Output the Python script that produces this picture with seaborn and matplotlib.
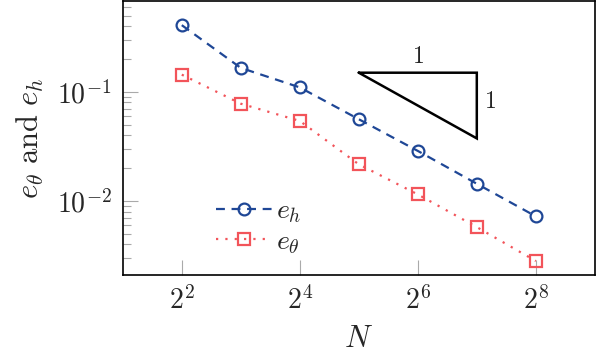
import matplotlib
matplotlib.use("Agg")
import matplotlib.pyplot as plt
import seaborn as sns
import pandas as pd
import numpy as np
from matplotlib.ticker import FixedLocator, LogLocator, NullFormatter, FixedFormatter

N = [4, 8, 16, 32, 64, 128, 256]
e_h = [0.409, 0.166, 0.110, 0.0562, 0.0288, 0.0144, 0.00724]
e_theta = [0.144, 0.078, 0.0542, 0.0217, 0.0115, 0.00577, 0.00282]
tri_x = [32, 128, 128, 32]
tri_y = [0.15, 0.15, 0.0375, 0.15]
xtick_vals = [4, 16, 64, 256]
xtick_labels = [r'$2^{2}$', r'$2^{4}$', r'$2^{6}$', r'$2^{8}$']
ytick_vals = [0.1, 0.01]
ytick_labels = [r'$10^{-1}$', r'$10^{-2}$']

sns.set_theme(style="white")
plt.rcParams['mathtext.fontset'] = 'cm'
plt.rcParams['font.family'] = ['DejaVu Serif']

blue = '#1f4796'
red = '#f2545a'

fig = plt.figure(figsize=(5.96, 3.56), dpi=100)
ax = fig.add_axes([0.206, 0.2275, 0.792, 0.7695])

df_h = pd.DataFrame({'N': N, 'err': e_h})
df_t = pd.DataFrame({'N': N, 'err': e_theta})

sns.lineplot(data=df_h, x='N', y='err', ax=ax, color=blue, lw=1.6,
             marker='o', markersize=8.5, markerfacecolor='none',
             markeredgecolor=blue, markeredgewidth=1.6, label=r'$e_h$')
ax.lines[-1].set_dashes([4, 3])
sns.lineplot(data=df_t, x='N', y='err', ax=ax, color=red, lw=1.6,
             marker='s', markersize=8.5, markerfacecolor='none',
             markeredgecolor=red, markeredgewidth=1.6, label=r'$e_\theta$')
ax.lines[-1].set_linestyle((0, (1, 3.2)))

ax.plot(tri_x, tri_y, color='black', lw=1.8, solid_joinstyle='miter')
ax.text(np.sqrt(32 * 128), 0.165, r'$\mathrm{1}$', fontsize=17, ha='center', va='bottom')
ax.text(140, 0.0815, r'$\mathrm{1}$', fontsize=17, ha='left', va='center')

ax.set_xscale('log', base=2)
ax.set_yscale('log')
ax.set_xlim(2, 512)
ax.set_ylim(0.0021, 0.68)

ax.xaxis.set_major_locator(FixedLocator(xtick_vals))
ax.xaxis.set_major_formatter(FixedFormatter(xtick_labels))
ax.xaxis.set_minor_locator(FixedLocator([]))
ax.yaxis.set_major_locator(FixedLocator(ytick_vals))
ax.yaxis.set_major_formatter(FixedFormatter(ytick_labels))
ax.yaxis.set_minor_locator(LogLocator(base=10, subs=np.arange(2, 10)))
ax.yaxis.set_minor_formatter(NullFormatter())

ax.tick_params(axis='both', which='major', direction='in', length=11, width=0.8,
               color='#aaaaaa', labelsize=20, pad=8, bottom=True, left=True)
ax.tick_params(axis='y', which='minor', direction='in', length=6, width=0.8,
               color='#aaaaaa', left=True)
for s in ax.spines.values():
    s.set_color('black')
    s.set_linewidth(1.2)

ax.set_xlabel(r'$N$', fontsize=22, labelpad=6)
ax.set_ylabel(r'$e_\theta\ \mathrm{and}\ e_h$', fontsize=22, labelpad=8)

leg = ax.legend(loc='lower left', bbox_to_anchor=(0.175, 0.03), frameon=False,
                fontsize=20, handlelength=2.0, handletextpad=0.15,
                labelspacing=0.1, borderaxespad=0)

fig.savefig('out.png', dpi=100)
